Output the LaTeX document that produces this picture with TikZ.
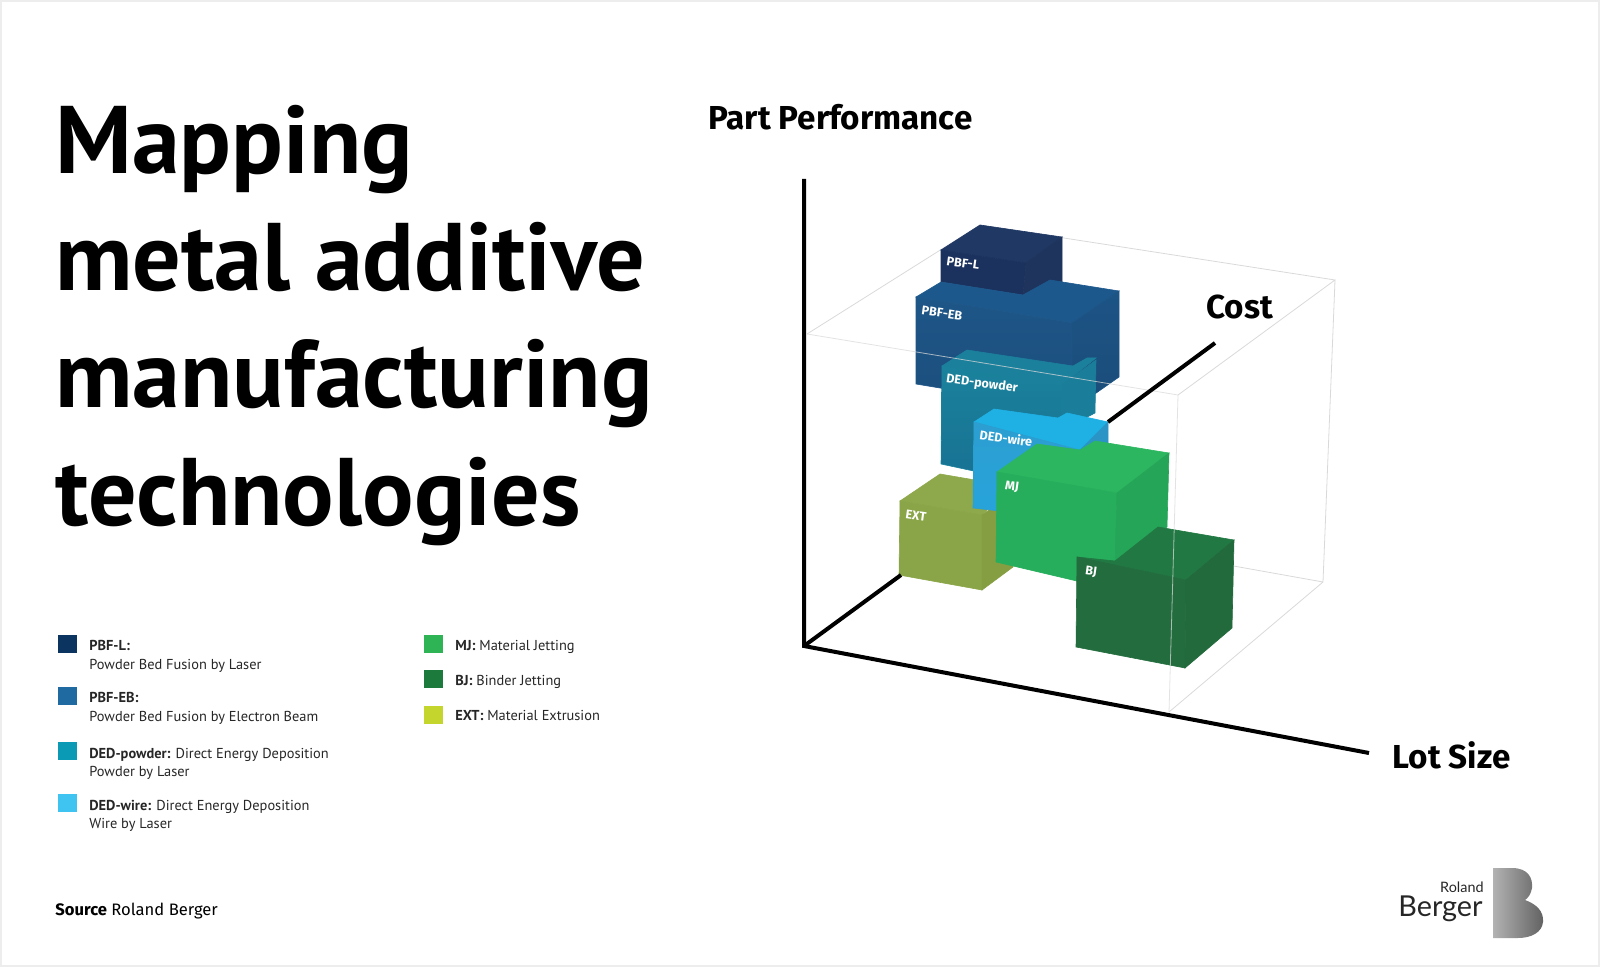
\documentclass[tikz,border=0pt]{standalone}
\usepackage{fontspec}
\setmainfont{Fira Sans}
\newfontfamily\legendfont{PT Sans}
\newfontfamily\logofont{Lato}
\definecolor{lgpbfl}{HTML}{0B3460}
\definecolor{lgpbfeb}{HTML}{1F6AA0}
\definecolor{lgpowder}{HTML}{0A9AB5}
\definecolor{lgwire}{HTML}{3FC4F2}
\definecolor{lgmj}{HTML}{2FB455}
\definecolor{lgbj}{HTML}{1B7A3C}
\definecolor{lgext}{HTML}{C4D52E}
\definecolor{gridgrey}{HTML}{D9D9D9}
\definecolor{pbflt}{HTML}{1F3864}
\definecolor{pbflf}{HTML}{1B325E}
\definecolor{pbflr}{HTML}{1E345C}
\definecolor{pbfebt}{HTML}{1D588C}
\definecolor{pbfebf}{HTML}{1D5688}
\definecolor{pbfebg}{HTML}{1C4E7C}
\definecolor{pbfebr}{HTML}{1C5486}
\definecolor{pbfebs}{HTML}{1B4C78}
\definecolor{powdert}{HTML}{1B809C}
\definecolor{powderf}{HTML}{1A829C}
\definecolor{powderg}{HTML}{187092}
\definecolor{powderr}{HTML}{1A7E9A}
\definecolor{extt}{HTML}{8EA84C}
\definecolor{extf}{HTML}{8AA548}
\definecolor{extr}{HTML}{859E42}
\definecolor{wiret}{HTML}{1FB0E4}
\definecolor{wiref}{HTML}{2C9ED0}
\definecolor{wireg}{HTML}{26A4DC}
\definecolor{wirer}{HTML}{2A94C6}
\definecolor{mjt}{HTML}{2CB660}
\definecolor{mjf}{HTML}{27AE5C}
\definecolor{mjr}{HTML}{25A558}
\definecolor{bjt}{HTML}{217842}
\definecolor{bjf}{HTML}{226C3E}
\definecolor{bjr}{HTML}{22693C}
\tikzset{
  titleline/.style={anchor=base west,inner sep=0pt,font=\legendfont\fontsize{48}{48}\selectfont\bfseries},
  axislabel/.style={anchor=base west,inner sep=0pt,font=\fontsize{16.6}{18}\selectfont\bfseries},
  legbox/.style={anchor=north west,minimum width=9.5pt,minimum height=9pt,inner sep=0pt},
  legtext/.style={anchor=base west,inner sep=0pt,text=black!85,font=\legendfont\fontsize{7.2}{9}\selectfont},
  boxlabel/.style={inner sep=0pt,text=white,font=\fontsize{6.3}{7}\selectfont\bfseries,rotate=-8},
  axisline/.style={line width=2pt,black},
  boxedge/.style={line width=0.4pt,gridgrey},
  blockface/.style={fill=#1,draw=#1,line width=0.3pt}
}
\begin{document}
\begin{tikzpicture}[x=0.5pt,y=-0.5pt]
\useasboundingbox (0,0) rectangle (1600,967);
\draw[line width=2pt,black!7] (0,0) rectangle (1600,967); %pale frame of the slide

\foreach[count=\xi] \x/\y in {Mapping/174,metal additive/291,manufacturing/408,technologies/525}{ %\xi is the counter
\node[titleline] (title-\xi) at (55,\y) {\x};
}

\node[axislabel] (perf) at (708,130) {Part Performance};
\node[axislabel] (cost) at (1206,319) {Cost};
\node[axislabel] (lot) at (1392,768) {Lot Size};

% grey cage behind the blocks
\coordinate (A) at (807,334);
\coordinate (B) at (980,225);
\coordinate (C) at (1335,280);
\coordinate (D) at (1178,395);
\coordinate (E) at (1169,712);
\coordinate (F) at (1323,582);
\draw[boxedge] (A) -- (B) -- (C) -- (D) (C) -- (F) -- (E) (F) -- (1200,560);

% PBF-L
\path[blockface=pbflt] (941,250) -- (980,225) -- (1062,237) -- (1026,263) -- cycle;
\path[blockface=pbflf] (941,250) -- (1026,263) -- (1023,295) -- (941,282) -- cycle;
\path[blockface=pbflr] (1026,263) -- (1062,237) -- (1062,285) -- (1023,295) -- cycle;

% PBF-EB
\path[blockface=pbfebt] (916,297) -- (941,282) -- (1023,295) -- (1050,280) -- (1119,291) -- (1072,323) -- cycle;
\shadedraw[draw=pbfebf,line width=0.3pt,top color=pbfebf,bottom color=pbfebg] (916,297) -- (1072,323) -- (1072,410) -- (916,384) -- cycle;
\shadedraw[draw=pbfebr,line width=0.3pt,top color=pbfebr,bottom color=pbfebs] (1072,323) -- (1119,291) -- (1119,377) -- (1072,410) -- cycle;

% DED-powder
\path[blockface=powdert] (942,366) -- (967,350) -- (1073,366) -- (1087,358) -- (1096,358) -- (1062,385) -- cycle;
\shadedraw[draw=powderf,line width=0.3pt,top color=powderf,bottom color=powderg] (942,366) -- (1062,385) -- (1062,490) -- (941,464) -- cycle;
\path[blockface=powderr] (1062,385) -- (1096,360) -- (1095,413) -- (1062,430) -- cycle;

% EXT
\path[blockface=extt] (900,501) -- (940,474) -- (1010,486) -- (982,515) -- cycle;
\path[blockface=extf] (900,501) -- (982,515) -- (982,590) -- (899,575) -- cycle;
\path[blockface=extr] (982,515) -- (1010,495) -- (1013,567) -- (982,590) -- cycle;

% DED-wire
\path[blockface=wiret] (974,422) -- (994,409) -- (1058,418) -- (1067,413) -- (1108,422) -- (1080,450) -- cycle;
\shadedraw[draw=wiref,line width=0.3pt,top color=wiref,bottom color=wireg] (974,422) -- (1080,450) -- (1080,520) -- (973,508) -- cycle;
\path[blockface=wirer] (1080,450) -- (1108,422) -- (1108,470) -- (1080,490) -- cycle;

% MJ
\path[blockface=mjt] (997,472) -- (1037,444) -- (1080,450) -- (1095,441) -- (1169,453) -- (1117,493) -- cycle;
\path[blockface=mjf] (997,472) -- (1117,493) -- (1115,590) -- (996,562) -- cycle;
\path[blockface=mjr] (1117,493) -- (1169,453) -- (1167,527) -- (1115,565) -- cycle;

% BJ
\path[blockface=bjt] (1077,557) -- (1115,561) -- (1158,527) -- (1234,540) -- (1186,580) -- cycle;
\path[blockface=bjf] (1077,557) -- (1186,580) -- (1185,668) -- (1076,647) -- cycle;
\path[blockface=bjr] (1186,580) -- (1234,540) -- (1232,628) -- (1185,668) -- cycle;

% front edges of the cage run over the blocks
\draw[boxedge,opacity=0.75] (A) -- (D) -- (E);

\foreach \x/\y/\t in {963/263/PBF-L,942/313/PBF-EB,982/384/DED-powder,1006/438/DED-wire,1012/487/MJ,916/516/EXT,1091/572/BJ}{
\node[boxlabel] (lab-\t) at (\x,\y) {\t};
}

% axes, the cost axis is hidden by the blocks in the middle
\coordinate (O) at (804,646);
\coordinate (topend) at (804,179);
\coordinate (lotend) at (1369,753);
\coordinate (costa) at (901,575);
\coordinate (costb) at (1108,422);
\coordinate (costend) at (1215,343);
\draw[axisline] (topend) -- (O) -- (lotend);
\draw[axisline] (O) -- (costa) (costb) -- (costend);

% legend
\foreach[count=\xi] \c/\x/\y/\a/\b/\tx/\ty in {
lgpbfl/58/635/PBF-L://89/650,
lgpbfeb/58/687/PBF-EB://89/702,
lgpowder/58/742/DED-powder:/ Direct Energy Deposition/89/758,
lgwire/58/794/DED-wire:/ Direct Energy Deposition/89/810,
lgmj/424/635/MJ:/ Material Jetting/455/650,
lgbj/424/670/BJ:/ Binder Jetting/455/685,
lgext/424/706/EXT:/ Material Extrusion/455/720}{
\node[legbox,fill=\c] (legbox-\xi) at (\x,\y) {};
\node[legtext] (legtext-\xi) at (\tx,\ty) {\textbf{\a}\b};
}
\foreach[count=\xi] \y/\t in {669/Powder Bed Fusion by Laser,721/Powder Bed Fusion by Electron Beam,776/Powder by Laser,828/Wire by Laser}{
\node[legtext] (legsub-\xi) at (89,\y) {\t};
}

\node[anchor=base west,inner sep=0pt,font=\fontsize{8.3}{10}\selectfont] (source) at (55,915) {\textbf{Source} Roland Berger};

% logo
\node[anchor=base east,inner sep=0pt,text=black!85,font=\logofont\fontsize{7.2}{8}\selectfont] (roland) at (1484,892) {Roland};
\node[anchor=base east,inner sep=0pt,text=black!85,font=\logofont\fontsize{14.4}{15}\selectfont] (berger) at (1483,916) {Berger};
\shade[left color=black!30,middle color=black!6,right color=black!62] (1493,868) -- (1512,868) .. controls (1528,868) and (1533,878) .. (1532,888) .. controls (1531,894) and (1528,898) .. (1525,900) .. controls (1536,904) and (1544,911) .. (1543,922) .. controls (1542,932) and (1532,938) .. (1518,938) -- (1493,938) -- cycle;
\end{tikzpicture}
\end{document}
